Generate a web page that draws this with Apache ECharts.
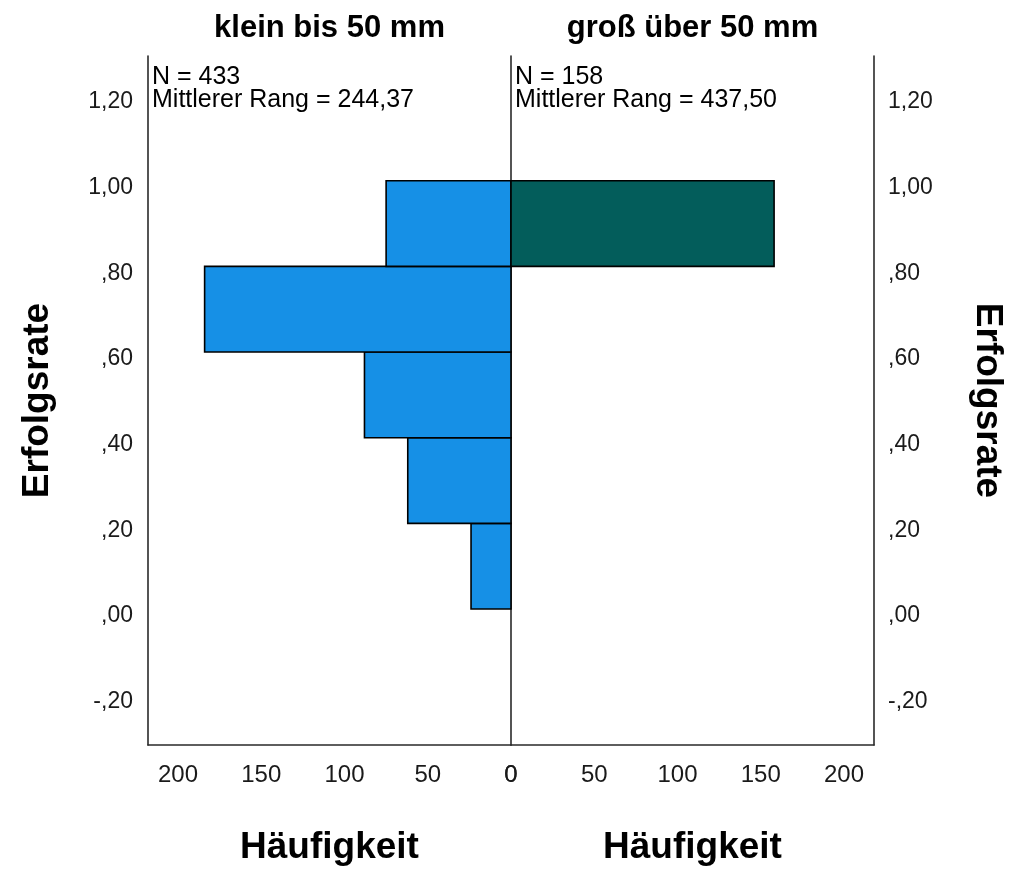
<!DOCTYPE html>
<html>
<head>
<meta charset="utf-8">
<title>Erfolgsrate nach Größe</title>
<script src="https://cdn.jsdelivr.net/npm/echarts@6/dist/echarts.min.js"></script>
<style>
  html, body { margin: 0; padding: 0; background: #ffffff; }
  #chart { width: 1013px; height: 869px; }
</style>
</head>
<body>
<div id="chart"></div>
<script>
// Bin edges of Erfolgsrate (lower, upper)
const binLower = [0.0, 0.2, 0.4, 0.6, 0.8];
const binUpper = [0.2, 0.4, 0.6, 0.8, 1.0];

// Frequencies per bin for each group
const countsKlein = [24, 62, 88, 184, 75];
const countsGross = [0, 0, 0, 0, 158];

// Panel headings and summary statistics
const groupTitles = ['klein bis 50 mm', 'groß über 50 mm'];
const groupN = [433, 158];
const groupMeanRank = ['244,37', '437,50'];

// Axis tick values
const yTicks = [-0.2, 0.0, 0.2, 0.4, 0.6, 0.8, 1.0, 1.2];
const xTicks = [0, 50, 100, 150, 200];

const FONT = "'Liberation Sans', Arial, Helvetica, sans-serif";
const AXIS_COLOR = '#2a2a2a';

function fmtRate(v) {
  // German style with leading zero dropped: 1,20  ,80  -,20
  const s = Math.abs(v).toFixed(2).replace('.', ',');
  const t = s.startsWith('0') ? s.slice(1) : s;
  return '{t|' + (v < 0 ? '-' : '') + t + '}';
}

function binData(counts) {
  return counts.map((c, i) => [binLower[i], binUpper[i], c]).filter(d => d[2] > 0);
}

function renderBar(fill) {
  return function (params, api) {
    const lo = api.value(0), hi = api.value(1), c = api.value(2);
    const p0 = api.coord([0, lo]);
    const p1 = api.coord([c, hi]);
    const x = Math.min(p0[0], p1[0]);
    const y = Math.min(p0[1], p1[1]);
    return {
      type: 'rect',
      shape: { x: x, y: y, width: Math.abs(p1[0] - p0[0]), height: Math.abs(p1[1] - p0[1]) },
      style: { fill: fill, stroke: '#000000', lineWidth: 1.6 }
    };
  };
}

const yMin = -0.3175, yMax = 1.2911;
const xMax = 218;

const chart = echarts.init(document.getElementById('chart'), null, { renderer: 'canvas' });

const yLabelCommon = {
  customValues: yTicks,
  formatter: fmtRate,
  rich: {
    t: { fontFamily: FONT, fontSize: 23, color: '#1a1a1a', padding: [14, 0, 0, 0] }
  }
};

const xLabelCommon = {
  fontFamily: FONT, fontSize: 24, color: '#1a1a1a',
  customValues: xTicks,
  margin: 18
};

const nameStyle = { fontFamily: FONT, fontSize: 37, fontWeight: 'bold', color: '#000' };
const lineStyle = { color: AXIS_COLOR, width: 1.6 };

chart.setOption({
  animation: false,
  backgroundColor: '#ffffff',
  grid: [
    { left: 148, top: 56, width: 363, height: 689, containLabel: false, outerBoundsMode: 'none' },
    { left: 511, top: 56, width: 363, height: 689, containLabel: false, outerBoundsMode: 'none' }
  ],
  xAxis: [
    {
      gridIndex: 0, type: 'value', min: 0, max: xMax, inverse: true,
      axisLine: { show: true, onZero: false, lineStyle: lineStyle },
      axisTick: { show: false }, splitLine: { show: false },
      axisLabel: xLabelCommon,
      name: 'Häufigkeit', nameLocation: 'middle', nameGap: 84, nameTextStyle: nameStyle
    },
    {
      gridIndex: 1, type: 'value', min: 0, max: xMax,
      axisLine: { show: true, onZero: false, lineStyle: lineStyle },
      axisTick: { show: false }, splitLine: { show: false },
      axisLabel: xLabelCommon,
      name: 'Häufigkeit', nameLocation: 'middle', nameGap: 84, nameTextStyle: nameStyle
    }
  ],
  yAxis: [
    {
      gridIndex: 0, type: 'value', min: yMin, max: yMax, position: 'left',
      axisLine: { show: true, onZero: false, lineStyle: lineStyle },
      axisTick: { show: false }, splitLine: { show: false },
      axisLabel: Object.assign({ margin: 15 }, yLabelCommon),
      name: 'Erfolgsrate', nameLocation: 'middle', nameGap: 92, nameTextStyle: nameStyle
    },
    {
      // centre divider between the two panels
      gridIndex: 0, type: 'value', min: yMin, max: yMax, position: 'right',
      axisLine: { show: true, onZero: false, lineStyle: lineStyle },
      axisTick: { show: false }, splitLine: { show: false }, axisLabel: { show: false }
    },
    {
      gridIndex: 1, type: 'value', min: yMin, max: yMax, position: 'right',
      axisLine: { show: true, onZero: false, lineStyle: lineStyle },
      axisTick: { show: false }, splitLine: { show: false },
      axisLabel: Object.assign({ margin: 14 }, yLabelCommon),
      name: 'Erfolgsrate', nameLocation: 'middle', nameGap: 95, nameRotate: -90, nameTextStyle: nameStyle
    }
  ],
  series: [
    {
      type: 'custom', xAxisIndex: 0, yAxisIndex: 0,
      renderItem: renderBar('#1690E6'),
      encode: { x: 2, y: [0, 1] },
      data: binData(countsKlein)
    },
    {
      type: 'custom', xAxisIndex: 1, yAxisIndex: 2,
      renderItem: renderBar('#035D5B'),
      encode: { x: 2, y: [0, 1] },
      data: binData(countsGross)
    }
  ],
  graphic: [
    {
      type: 'text', x: 329.5, y: 28,
      style: { text: groupTitles[0], align: 'center', verticalAlign: 'middle', font: "bold 31px " + FONT, fill: '#000' }
    },
    {
      type: 'text', x: 692.5, y: 28,
      style: { text: groupTitles[1], align: 'center', verticalAlign: 'middle', font: "bold 31px " + FONT, fill: '#000' }
    },
    {
      type: 'text', x: 152, y: 66,
      style: { text: 'N = ' + groupN[0] + '\nMittlerer Rang = ' + groupMeanRank[0], font: "25px " + FONT, lineHeight: 23, fill: '#000' }
    },
    {
      type: 'text', x: 515, y: 66,
      style: { text: 'N = ' + groupN[1] + '\nMittlerer Rang = ' + groupMeanRank[1], font: "25px " + FONT, lineHeight: 23, fill: '#000' }
    }
  ]
});
</script>
</body>
</html>
